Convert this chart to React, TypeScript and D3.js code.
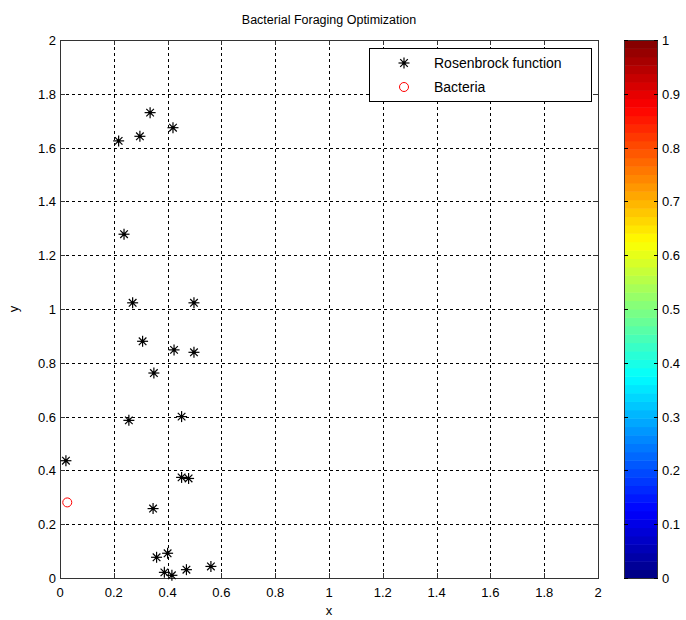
import React from "react";
import * as d3 from "d3";

const starX = [0.218, 0.297, 0.335, 0.420, 0.238, 0.270, 0.498, 0.307, 0.424, 0.498, 0.349, 0.256, 0.452, 0.022, 0.452, 0.478, 0.346, 0.359, 0.400, 0.388, 0.416, 0.470, 0.561];
const starY = [1.625, 1.642, 1.730, 1.674, 1.278, 1.023, 1.023, 0.880, 0.848, 0.839, 0.762, 0.586, 0.600, 0.436, 0.374, 0.370, 0.258, 0.077, 0.092, 0.021, 0.010, 0.031, 0.043];
const bactX = [0.027];
const bactY = [0.281];
const axisTicks = [0, 0.2, 0.4, 0.6, 0.8, 1, 1.2, 1.4, 1.6, 1.8, 2];
const cbTicks = [0, 0.1, 0.2, 0.3, 0.4, 0.5, 0.6, 0.7, 0.8, 0.9, 1];
const legendLabels = ["Rosenbrock function", "Bacteria"];
const titleText = "Bacterial Foraging Optimization";

function jet(t: number): string {
  const f = (v: number) => Math.max(0, Math.min(1, v));
  const r = f(1.5 - Math.abs(4 * t - 3));
  const g = f(1.5 - Math.abs(4 * t - 2));
  const b = f(1.5 - Math.abs(4 * t - 1));
  return d3.rgb(r * 255, g * 255, b * 255).toString();
}

const W = 686, H = 620;
const L = 60, R = 598, T = 40, B = 578;
const CBL = 624, CBR = 658;
const font = "'Liberation Sans', Arial, sans-serif";

function Star({ x, y }: { x: number; y: number }) {
  const a = 5.5, d = 3.8;
  return (
    <g stroke="#000" strokeWidth={1.2}>
      <line x1={x - a} y1={y} x2={x + a} y2={y} />
      <line x1={x} y1={y - a} x2={x} y2={y + a} />
      <line x1={x - d} y1={y - d} x2={x + d} y2={y + d} />
      <line x1={x - d} y1={y + d} x2={x + d} y2={y - d} />
      <circle cx={x} cy={y} r={1.8} fill="#000" stroke="none" />
    </g>
  );
}

export default function App() {
  const xs = d3.scaleLinear().domain([0, 2]).range([L, R]);
  const ys = d3.scaleLinear().domain([0, 2]).range([B, T]);
  const cs = d3.scaleLinear().domain([0, 1]).range([B, T]);
  const n = 64;
  const bands = d3.range(n);
  const lx = 369, ly = 48, lw = 222, lh = 53;
  return (
    <svg width={W} height={H} style={{ position: "absolute", left: 0, top: 0, background: "#fff" }} fontFamily={font}>
      <rect x={0} y={0} width={W} height={H} fill="#fff" />
      <text x={(L + R) / 2} y={24} textAnchor="middle" fontSize={12.5} fill="#000">{titleText}</text>
      <g stroke="#000" strokeWidth={1} strokeDasharray="3,3" shapeRendering="crispEdges">
        {axisTicks.slice(1, -1).map((t) => (
          <line key={"gx" + t} x1={Math.round(xs(t)) + 0.5} x2={Math.round(xs(t)) + 0.5} y1={B} y2={T} />
        ))}
        {axisTicks.slice(1, -1).map((t) => (
          <line key={"gy" + t} y1={Math.round(ys(t)) + 0.5} y2={Math.round(ys(t)) + 0.5} x1={L} x2={R} />
        ))}
      </g>
      <rect x={L + 0.5} y={T + 0.5} width={R - L} height={B - T} fill="none" stroke="#333" strokeWidth={1} shapeRendering="crispEdges" />
      <g stroke="#333" shapeRendering="crispEdges">
        {axisTicks.map((t) => (
          <g key={"t" + t}>
            <line x1={Math.round(xs(t)) + 0.5} x2={Math.round(xs(t)) + 0.5} y1={B} y2={B - 5} />
            <line x1={Math.round(xs(t)) + 0.5} x2={Math.round(xs(t)) + 0.5} y1={T} y2={T + 5} />
            <line y1={Math.round(ys(t)) + 0.5} y2={Math.round(ys(t)) + 0.5} x1={L} x2={L + 5} />
            <line y1={Math.round(ys(t)) + 0.5} y2={Math.round(ys(t)) + 0.5} x1={R} x2={R - 5} />
          </g>
        ))}
      </g>
      {axisTicks.map((t) => (
        <text key={"xl" + t} x={xs(t)} y={B + 19} textAnchor="middle" fontSize={13} fill="#000">{d3.format("~g")(t)}</text>
      ))}
      {axisTicks.map((t) => (
        <text key={"yl" + t} x={L - 4} y={ys(t) + 5} textAnchor="end" fontSize={13} fill="#000">{d3.format("~g")(t)}</text>
      ))}
      <text x={(L + R) / 2} y={B + 37} textAnchor="middle" fontSize={13} fill="#000">x</text>
      <text transform={`translate(18,${(T + B) / 2}) rotate(-90)`} textAnchor="middle" fontSize={13} fill="#000">y</text>
      {starX.map((v, i) => (
        <Star key={"s" + i} x={xs(v)} y={ys(starY[i])} />
      ))}
      {bactX.map((v, i) => (
        <circle key={"b" + i} cx={xs(v)} cy={ys(bactY[i])} r={4.5} fill="none" stroke="#ff0000" strokeWidth={1} />
      ))}
      <rect x={lx + 0.5} y={ly + 0.5} width={lw} height={lh} fill="#fff" stroke="#000" strokeWidth={1} shapeRendering="crispEdges" />
      <Star x={404} y={63} />
      <circle cx={404} cy={87} r={4.5} fill="none" stroke="#ff0000" />
      <text x={434} y={68} fontSize={14} fill="#000">{legendLabels[0]}</text>
      <text x={434} y={92} fontSize={14} fill="#000">{legendLabels[1]}</text>
      {bands.map((i) => (
        <rect key={"c" + i} x={CBL} width={CBR - CBL} y={cs((i + 1) / n)} height={cs(i / n) - cs((i + 1) / n) + 0.5} fill={jet((i + 0.5) / n)} />
      ))}
      <rect x={CBL + 0.5} y={T + 0.5} width={CBR - CBL - 1} height={B - T} fill="none" stroke="#333" shapeRendering="crispEdges" />
      <g stroke="#000" shapeRendering="crispEdges">
        {cbTicks.map((t) => (
          <g key={"ct" + t}>
            <line x1={CBL} x2={CBL + 4} y1={Math.round(cs(t)) + 0.5} y2={Math.round(cs(t)) + 0.5} />
            <line x1={CBR - 4} x2={CBR} y1={Math.round(cs(t)) + 0.5} y2={Math.round(cs(t)) + 0.5} />
          </g>
        ))}
      </g>
      {cbTicks.map((t) => (
        <text key={"cl" + t} x={CBR + 4} y={cs(t) + 5} fontSize={13} fill="#000">{d3.format("~g")(t)}</text>
      ))}
    </svg>
  );
}
